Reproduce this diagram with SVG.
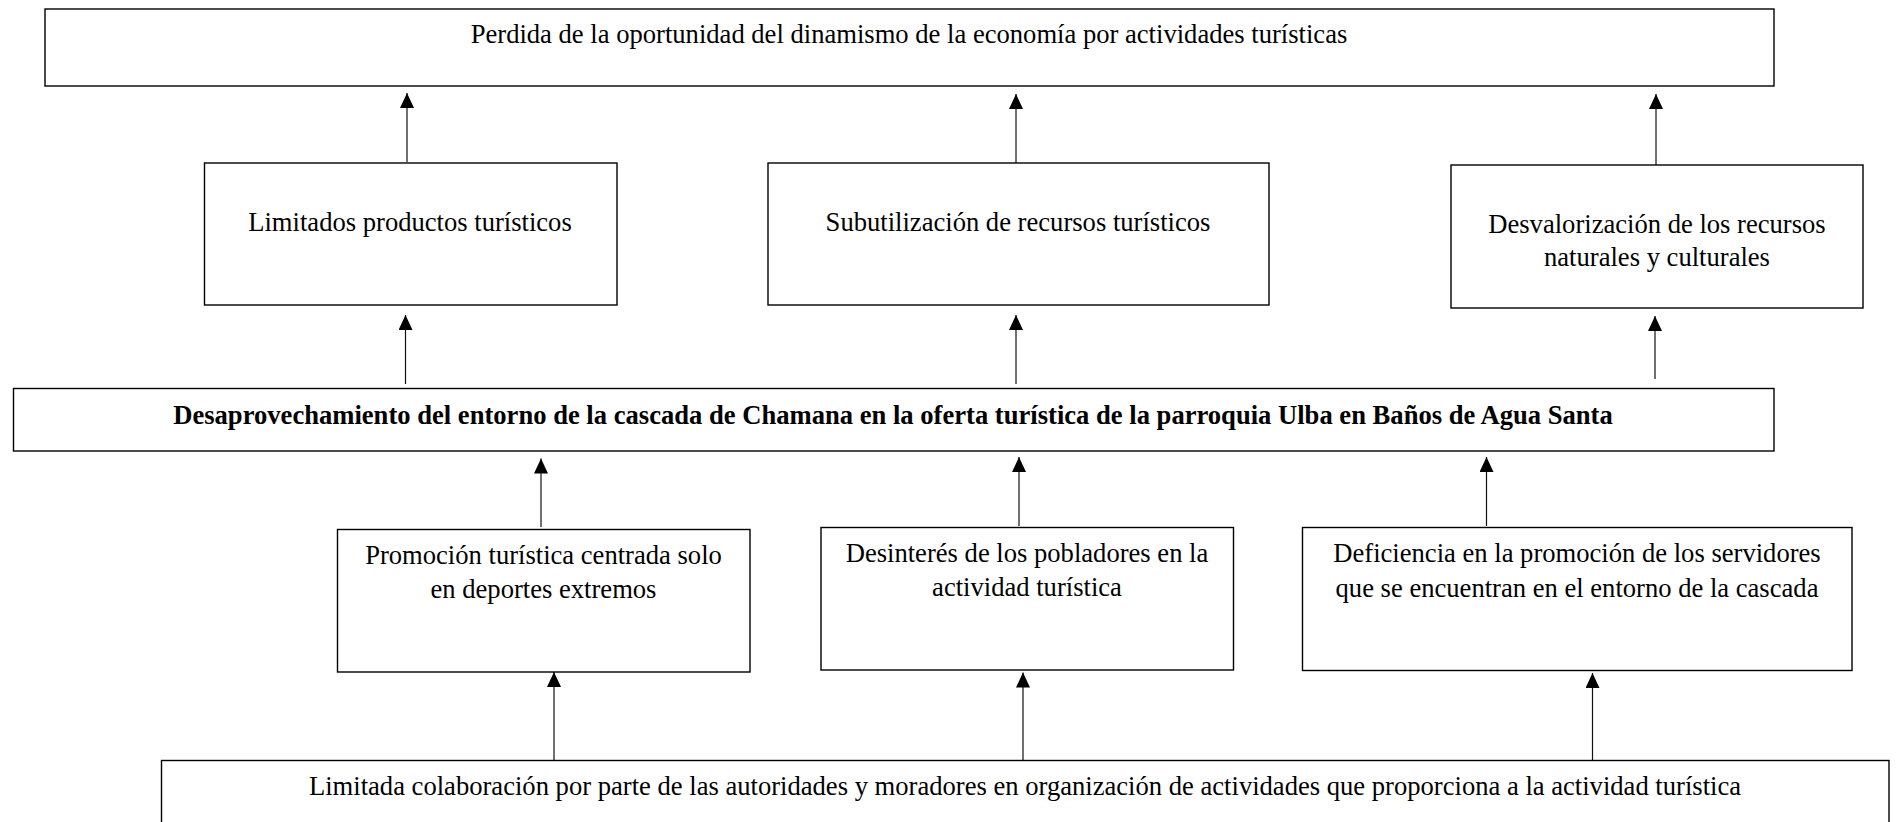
<svg xmlns="http://www.w3.org/2000/svg" width="1896" height="822" viewBox="0 0 1896 822">
<style>
  .box { fill: #ffffff; stroke: #000000; stroke-width: 1.4; }
  .t { font-family: "Liberation Serif", "Times New Roman", serif; font-size: 26.6px; fill: #000000; text-anchor: middle; }
  .b { font-weight: bold; }
  .c { stroke: #111111; stroke-width: 1.2; fill: none; marker-end: url(#ah); }
</style>
<defs>
  <marker id="ah" markerUnits="userSpaceOnUse" markerWidth="16" markerHeight="15" refX="15" refY="7" orient="auto">
    <path d="M0,0 L15,7 L0,14 z" fill="#000000"/>
  </marker>
</defs>
<rect x="0" y="0" width="1896" height="822" fill="#ffffff"/>

<g id="connectors">
  <line class="c" x1="407" y1="162" x2="407" y2="93"/>
  <line class="c" x1="1016" y1="163" x2="1016" y2="94"/>
  <line class="c" x1="1656" y1="165" x2="1656" y2="94"/>
  <line class="c" x1="405.5" y1="384" x2="405.5" y2="315"/>
  <line class="c" x1="1016" y1="384" x2="1016" y2="315"/>
  <line class="c" x1="1655" y1="379" x2="1655" y2="316"/>
  <line class="c" x1="541" y1="527" x2="541" y2="458.5"/>
  <line class="c" x1="1019" y1="526" x2="1019" y2="457"/>
  <line class="c" x1="1486.5" y1="526" x2="1486.5" y2="457"/>
  <line class="c" x1="554" y1="760" x2="554" y2="672"/>
  <line class="c" x1="1023" y1="760" x2="1023" y2="672.5"/>
  <line class="c" x1="1592.5" y1="760" x2="1592.5" y2="673"/>
</g>

<g id="efecto-final">
  <rect class="box" x="45" y="9" width="1729" height="77"/>
  <text class="t" x="909" y="43">Perdida de la oportunidad del dinamismo de la economía por actividades turísticas</text>
</g>

<g id="efecto-1">
  <rect class="box" x="204.5" y="163" width="412.5" height="142"/>
  <text class="t" x="410" y="231">Limitados productos turísticos</text>
</g>

<g id="efecto-2">
  <rect class="box" x="768" y="163" width="501" height="142"/>
  <text class="t" x="1018" y="231">Subutilización de recursos turísticos</text>
</g>

<g id="efecto-3">
  <rect class="box" x="1451" y="165" width="412" height="143"/>
  <text class="t" x="1657" y="233">Desvalorización de los recursos</text>
  <text class="t" x="1657" y="266">naturales y culturales</text>
</g>

<g id="problema">
  <rect class="box" x="13.5" y="388.5" width="1760.5" height="62.5"/>
  <text class="t b" x="893" y="424">Desaprovechamiento del entorno de la cascada de Chamana en la oferta turística de la parroquia Ulba en Baños de Agua Santa</text>
</g>

<g id="causa-1">
  <rect class="box" x="337.5" y="529.5" width="412.5" height="142.5"/>
  <text class="t" x="543.5" y="564">Promoción turística centrada solo</text>
  <text class="t" x="543.5" y="598">en deportes extremos</text>
</g>

<g id="causa-2">
  <rect class="box" x="821" y="527.5" width="412.5" height="142.5"/>
  <text class="t" x="1027" y="562">Desinterés de los pobladores en la</text>
  <text class="t" x="1027" y="596">actividad turística</text>
</g>

<g id="causa-3">
  <rect class="box" x="1302.5" y="527.5" width="549.5" height="143"/>
  <text class="t" x="1577" y="562">Deficiencia en la promoción de los servidores</text>
  <text class="t" x="1577" y="597">que se encuentran en el entorno de la cascada</text>
</g>

<g id="causa-raiz">
  <rect class="box" x="161.5" y="760.5" width="1727.5" height="90"/>
  <text class="t" x="1025" y="795">Limitada colaboración por parte de las autoridades y moradores en organización de actividades que proporciona a la actividad turística</text>
</g>
</svg>
